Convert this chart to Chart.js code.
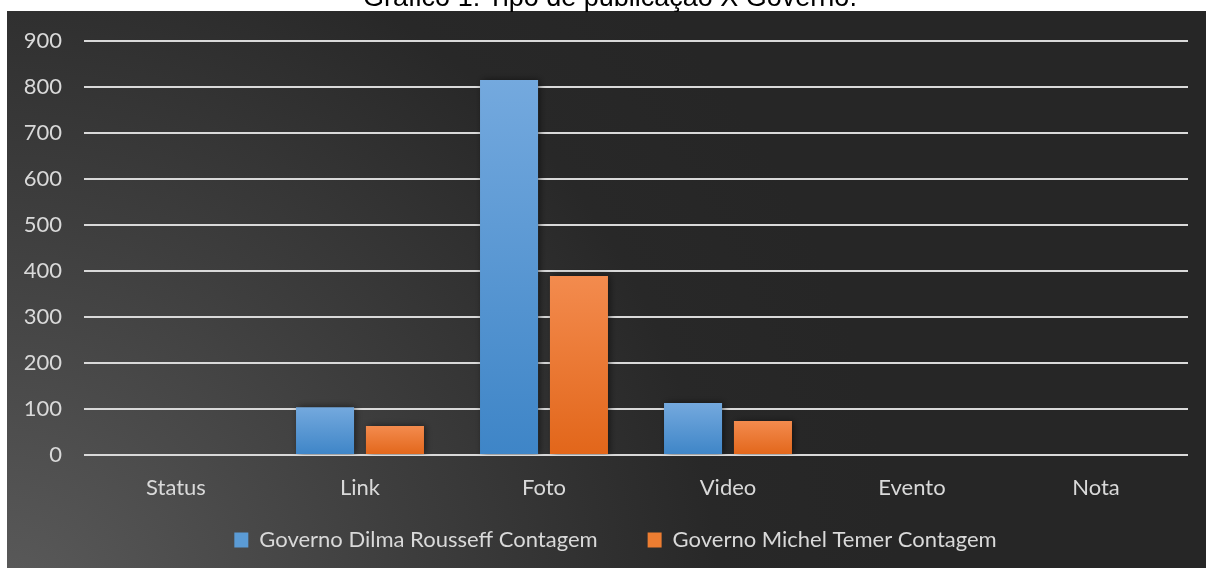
<!DOCTYPE html>
<html>
<head>
<meta charset="utf-8">
<script src="https://cdn.jsdelivr.net/npm/chart.js@4/dist/chart.umd.min.js"></script>
<style>
  html, body { margin: 0; padding: 0; background: #ffffff; overflow: hidden; }
  #wrap { position: relative; width: 1206px; height: 568px; }
  #title { position: absolute; left: 0; width: 1220px; top: -16px; text-align: center;
           font-family: "Liberation Sans", Arial, sans-serif; font-size: 27px; line-height: 27px;
           color: #000; z-index: 2; white-space: nowrap; }
  canvas { position: absolute; left: 0; top: 0; }
</style>
</head>
<body>
<div id="wrap">
  <div id="title">Gráfico 1: Tipo de publicação X Governo.</div>
  <canvas id="c" width="1206" height="568"></canvas>
</div>
<script>
// ---- data ----
const categories = ['Status', 'Link', 'Foto', 'Video', 'Evento', 'Nota'];
const dilmaValues = [0, 104, 815, 113, 0, 0];
const temerValues = [0, 63, 389, 74, 0, 0];
const seriesNames = ['Governo Dilma Rousseff Contagem', 'Governo Michel Temer Contagem'];
const yMin = 0, yMax = 900, yStep = 100;

// ---- styles ----
const blueTop = '#74A9DE', blueBottom = '#3E85C7', blueSolid = '#5B9BD5';
const orangeTop = '#F38B4E', orangeBottom = '#E2661A', orangeSolid = '#ED7D31';
const textColor = '#D9D9D9';
const fontFamily = 'Lato, "Open Sans", sans-serif';

function gradientFill(topC, botC, solid) {
  return function (ctx) {
    if (ctx.type !== 'data') return solid;
    const chart = ctx.chart;
    const ys = chart.scales && chart.scales.y;
    if (!chart.chartArea || !ys) return solid;
    const top = ys.getPixelForValue(ctx.raw);
    const bottom = ys.getPixelForValue(0);
    if (!isFinite(top) || !isFinite(bottom) || Math.abs(bottom - top) < 1) return solid;
    const g = chart.ctx.createLinearGradient(0, top, 0, bottom);
    g.addColorStop(0, topC);
    g.addColorStop(1, botC);
    return g;
  };
}

const panelBg = {
  id: 'panelBg',
  beforeDraw(chart) {
    const c = chart.ctx;
    c.save();
    c.fillStyle = '#ffffff';
    c.fillRect(0, 0, chart.width, chart.height);
    const g = c.createRadialGradient(0, 620, 0, 0, 620, 900);
    g.addColorStop(0, '#5c5c5c');
    g.addColorStop(0.45, '#3e3e3e');
    g.addColorStop(0.8, '#282828');
    g.addColorStop(1, '#262626');
    c.fillStyle = g;
    c.fillRect(7, 11, chart.width - 7, chart.height - 11);
    c.restore();
  }
};

const barShadow = {
  id: 'barShadow',
  beforeDatasetsDraw(chart) {
    const c = chart.ctx;
    c.save();
    c.shadowColor = 'rgba(0,0,0,0.55)';
    c.shadowBlur = 7;
    c.shadowOffsetX = 2;
    c.shadowOffsetY = 0;
  },
  afterDatasetsDraw(chart) {
    chart.ctx.restore();
  }
};

// wider horizontal gap between legend items than the vertical padding used for layout
const legendSpacing = {
  id: 'legendSpacing',
  afterLayout(chart) {
    const lg = chart.legend;
    if (!lg || lg._spaced) return;
    const fitPad = lg.options.labels.padding;
    const drawPad = 50;
    lg.options.labels.padding = drawPad;
    lg.top -= (drawPad - fitPad);
    lg.left -= 3;
    lg._spaced = true;
  }
};

new Chart(document.getElementById('c'), {
  type: 'bar',
  data: {
    labels: categories,
    datasets: [
      { label: seriesNames[0], data: dilmaValues,
        backgroundColor: gradientFill(blueTop, blueBottom, blueSolid), borderWidth: 0,
        categoryPercentage: 0.76, barPercentage: 0.83 },
      { label: seriesNames[1], data: temerValues,
        backgroundColor: gradientFill(orangeTop, orangeBottom, orangeSolid), borderWidth: 0,
        categoryPercentage: 0.76, barPercentage: 0.83 }
    ]
  },
  options: {
    responsive: false,
    animation: false,
    devicePixelRatio: 1,
    layout: { padding: { left: 0, top: 41, right: 18, bottom: 7 } },
    plugins: {
      title: { display: false },
      tooltip: { enabled: false },
      legend: {
        position: 'bottom',
        labels: {
          color: textColor,
          font: { family: fontFamily, size: 22 },
          boxWidth: 14,
          boxHeight: 15,
          padding: 27,
          generateLabels(chart) {
            return chart.data.datasets.map((ds, i) => ({
              text: ds.label,
              fillStyle: i === 0 ? blueSolid : orangeSolid,
              strokeStyle: i === 0 ? blueSolid : orangeSolid,
              lineWidth: 0,
              fontColor: textColor,
              hidden: false,
              datasetIndex: i
            }));
          }
        }
      }
    },
    scales: {
      x: {
        grid: { display: false, drawTicks: false },
        border: { display: false },
        ticks: { color: textColor, font: { family: fontFamily, size: 22 }, padding: 20, maxRotation: 0, autoSkip: false },
        afterFit(scale) { scale.height = 47; }
      },
      y: {
        min: yMin, max: yMax,
        grid: { color: '#D9D9D9', lineWidth: 2, drawTicks: false },
        border: { display: false },
        ticks: { stepSize: yStep, color: textColor, font: { family: fontFamily, size: 22 }, padding: 22 },
        afterFit(scale) { scale.width = 84; }
      }
    }
  },
  plugins: [panelBg, barShadow, legendSpacing]
});
</script>
</body>
</html>
